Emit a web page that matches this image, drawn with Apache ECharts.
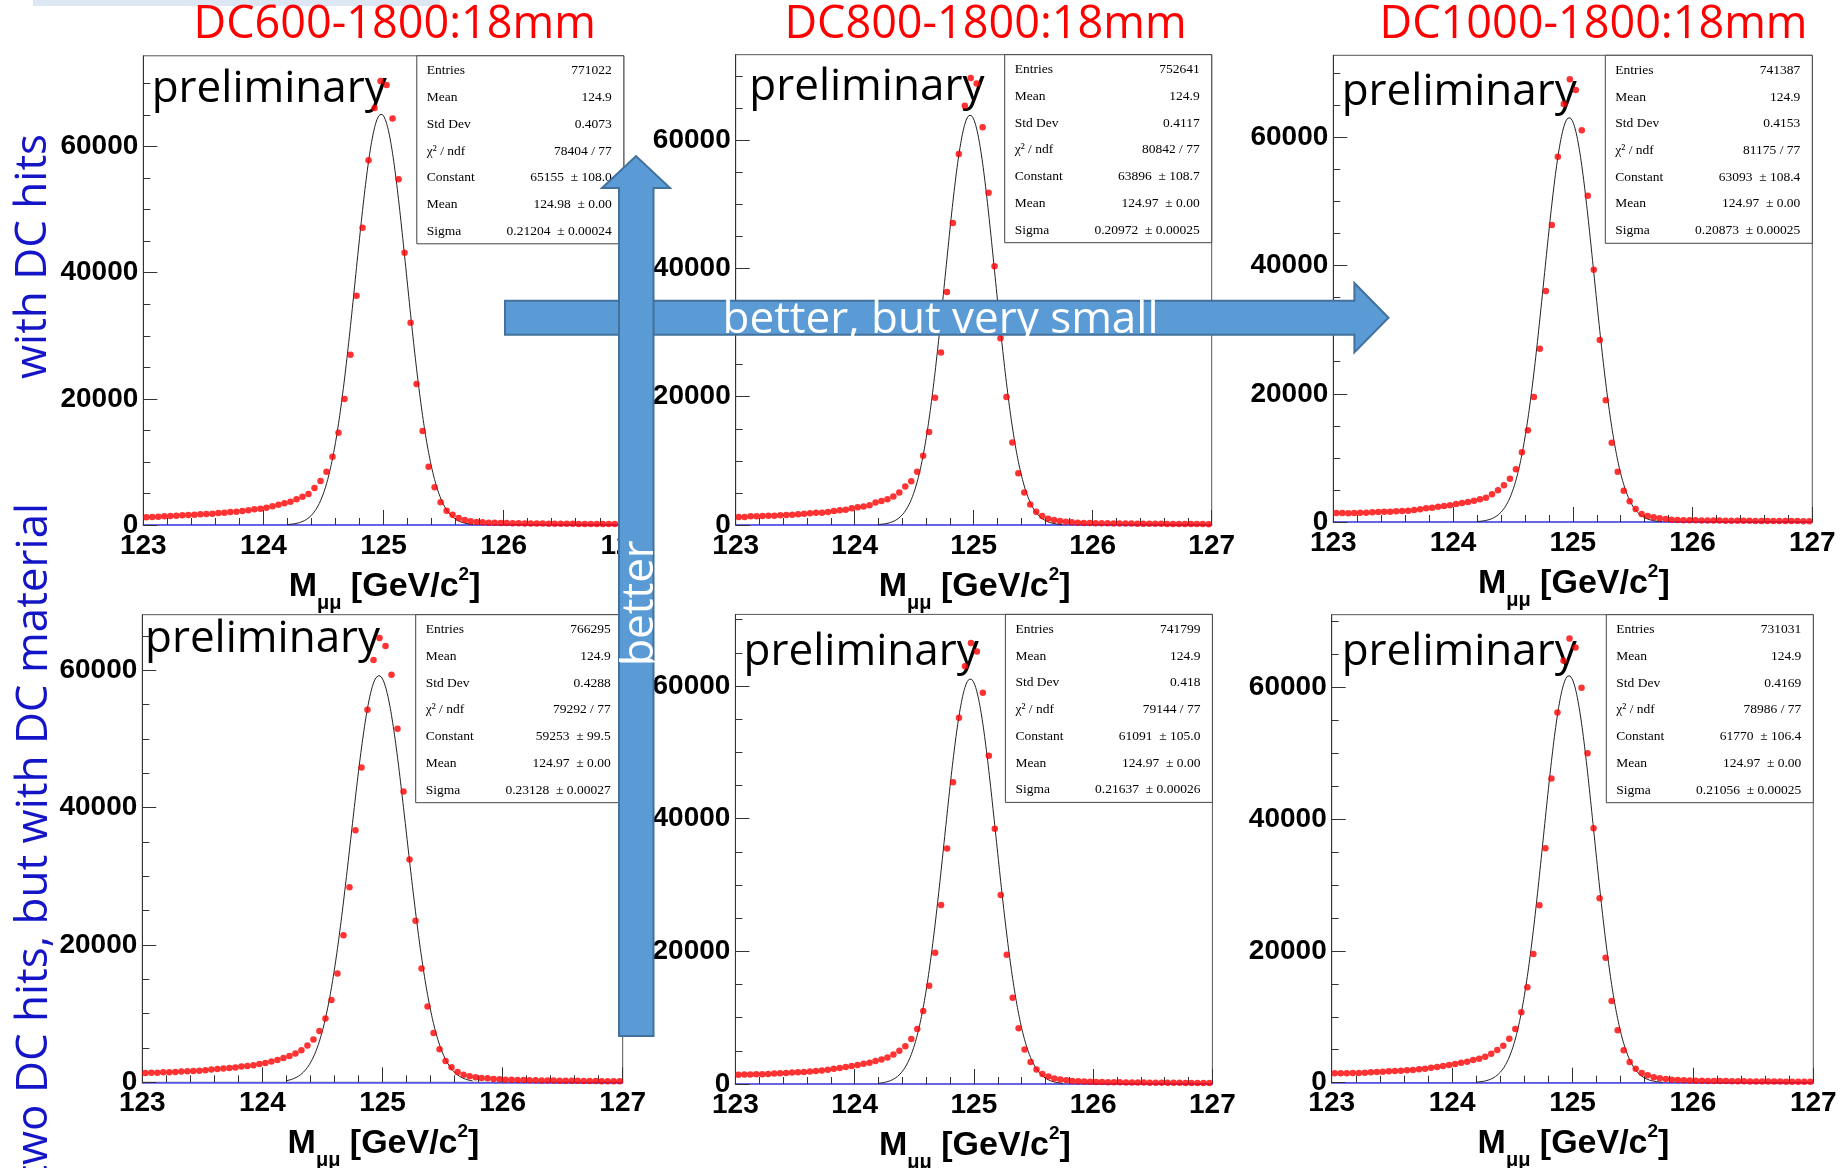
<!DOCTYPE html>
<html>
<head>
<meta charset="utf-8">
<script src="https://cdn.jsdelivr.net/npm/echarts@6/dist/echarts.min.js"></script>
<style>
html, body { margin: 0; padding: 0; background: #fff; }
#chart { width: 1842px; height: 1168px; }
</style>
</head>
<body>
<div id="chart"></div>
<script>
// Dimuon invariant mass histograms: 80 bins of 0.05 GeV from 123 to 127 GeV
const binLow = 123;
const binWidth = 0.05;

const columnTitles = ['DC600-1800:18mm', 'DC800-1800:18mm', 'DC1000-1800:18mm'];
const rowTitles = ['with DC hits', 'two DC hits, but with DC material'];
const xTickValues = [123, 124, 125, 126, 127];
const yTickValues = [0, 20000, 40000, 60000];
const yMinorTickValues = [5000, 10000, 15000, 25000, 30000, 35000, 45000, 50000, 55000, 65000, 70000];
const xAxisTitle = ['M', '\u03bc\u03bc', ' [GeV/c', '2', ']'];

// Bin contents, panels ordered row by row
const countsDC600hits = [1215, 1268, 1320, 1373, 1426, 1479, 1532, 1585, 1637, 1690, 1743, 1796, 1900, 1954, 2060, 2113, 2218, 2324, 2482, 2588,
  2747, 2958, 3222, 3433, 3697, 4067, 4490, 4912, 5863, 6972, 8451, 10828, 14631, 19966, 26991, 36340, 47115, 57838, 66130, 70409,
  69775, 64440, 54827, 43154, 32062, 22343, 14895, 9244, 5969, 3592, 2271, 1637, 1109, 792, 581, 475, 422, 370, 340, 320,
  300, 285, 270, 255, 245, 235, 225, 215, 205, 200, 190, 185, 175, 170, 165, 160, 155, 150, 145, 140];
const countsDC800hits = [1250, 1250, 1354, 1354, 1406, 1458, 1458, 1510, 1562, 1614, 1667, 1771, 1823, 1927, 1927, 2031, 2187, 2292, 2396, 2604,
  2760, 2864, 3073, 3489, 3750, 4010, 4427, 5052, 5989, 6822, 8281, 10781, 14478, 19842, 26873, 36300, 47080, 57809, 65360, 69683,
  68798, 61975, 51768, 40310, 29113, 19947, 12864, 8072, 5052, 3177, 2083, 1406, 990, 781, 625, 520, 417, 365, 330, 310,
  290, 275, 260, 250, 240, 230, 220, 210, 200, 195, 185, 180, 170, 165, 160, 155, 150, 145, 140, 135];
const countsDC1000hits = [1400, 1420, 1380, 1390, 1440, 1456, 1508, 1560, 1612, 1612, 1664, 1716, 1768, 1872, 1976, 2132, 2236, 2392, 2496, 2600,
  2808, 2964, 3120, 3328, 3536, 3796, 4316, 4940, 5720, 6760, 8216, 10868, 14300, 19500, 27040, 36036, 46332, 56992, 65208, 69056,
  67392, 61100, 50908, 39364, 28392, 18980, 12376, 7852, 4888, 3224, 2028, 1248, 936, 728, 572, 468, 364, 312, 290, 275,
  260, 250, 240, 230, 220, 210, 205, 195, 190, 180, 175, 170, 165, 160, 155, 150, 145, 140, 135, 130];
const countsDC600material = [1360, 1409, 1409, 1457, 1457, 1506, 1555, 1603, 1652, 1700, 1749, 1846, 1943, 1992, 2089, 2138, 2283, 2380, 2478, 2672,
  2818, 3012, 3255, 3546, 3838, 4178, 4664, 5344, 6218, 7481, 9279, 11999, 15837, 21424, 28419, 36726, 45860, 54264, 61502, 64709,
  63543, 59365, 51495, 42362, 32451, 23513, 16566, 11028, 7190, 4809, 3109, 2186, 1506, 1117, 874, 729, 632, 583, 486, 437,
  389, 370, 350, 330, 310, 290, 275, 260, 250, 240, 230, 220, 210, 200, 190, 180, 170, 165, 160, 150];
const countsDC800material = [1400, 1420, 1430, 1460, 1480, 1520, 1570, 1620, 1670, 1720, 1770, 1820, 1880, 1950, 2050, 2150, 2300, 2400, 2550, 2700,
  2850, 3050, 3200, 3450, 3700, 4000, 4450, 5000, 5700, 6800, 8300, 11000, 14800, 19800, 27000, 35500, 45500, 55200, 63000, 66500,
  65200, 59000, 49500, 38500, 28500, 19500, 13000, 8400, 5200, 3300, 2200, 1500, 1120, 830, 670, 560, 460, 410, 360, 335,
  315, 295, 280, 265, 255, 245, 235, 225, 215, 205, 195, 190, 180, 175, 170, 165, 160, 150, 145, 140];
const countsDC1000material = [1417, 1417, 1417, 1467, 1467, 1518, 1568, 1619, 1669, 1720, 1771, 1821, 1872, 1922, 2024, 2125, 2277, 2378, 2530, 2681,
  2833, 3035, 3187, 3440, 3642, 3946, 4401, 4958, 5615, 6678, 8145, 10674, 14469, 19528, 26914, 35565, 46138, 56155, 63996, 67386,
  66020, 59899, 49983, 38600, 27976, 18971, 12395, 7943, 4907, 3137, 2125, 1467, 1113, 809, 658, 556, 455, 405, 354, 330,
  310, 290, 275, 260, 250, 240, 230, 220, 210, 200, 195, 185, 180, 170, 165, 160, 155, 150, 145, 140];

// Statistics box contents
const entries = [771022, 752641, 741387, 766295, 741799, 731031];
const histMean = ['124.9', '124.9', '124.9', '124.9', '124.9', '124.9'];
const stdDev = ['0.4073', '0.4117', '0.4153', '0.4288', '0.418', '0.4169'];
const chi2 = [78404, 80842, 81175, 79292, 79144, 78986];
const ndf = [77, 77, 77, 77, 77, 77];
const fitConstant = [65155, 63896, 63093, 59253, 61091, 61770];
const fitConstantErr = ['108.0', '108.7', '108.4', '99.5', '105.0', '106.4'];
const fitMean = [124.98, 124.97, 124.97, 124.97, 124.97, 124.97];
const fitMeanErr = ['0.00', '0.00', '0.00', '0.00', '0.00', '0.00'];
const fitSigma = [0.21204, 0.20972, 0.20873, 0.23128, 0.21637, 0.21056];
const fitSigmaErr = ['0.00024', '0.00025', '0.00025', '0.00027', '0.00026', '0.00025'];
const fitRange = [124.2, 125.75];

const allCounts = [countsDC600hits, countsDC800hits, countsDC1000hits,
  countsDC600material, countsDC800material, countsDC1000material];

// Pad geometry (pixels) and y-range of each frame
const pads = [
  { l: 143.3, t: 55.8, w: 480.5, h: 469.2, yMax: 74400, px: 151.7, py: 106.7 },
  { l: 735.7, t: 54.7, w: 476.0, h: 470.3, yMax: 73300, px: 749.3, py: 105.0 },
  { l: 1333.3, t: 55.3, w: 479.0, h: 466.7, yMax: 72800, px: 1341.7, py: 109.3 },
  { l: 142.3, t: 614.7, w: 480.4, h: 467.6, yMax: 68100, px: 145.0, py: 656.7 },
  { l: 735.4, t: 614.4, w: 477.0, h: 469.6, yMax: 70800, px: 743.6, py: 669.6 },
  { l: 1331.7, t: 614.7, w: 481.6, h: 468.0, yMax: 71000, px: 1341.7, py: 670.0 }
];

// Canvas text baseline sits this far (in em) below the 'middle' line for each font
const MID = { sans: 0.3465, serif: 0.3375, open: 0.388 };

const measureCtx = document.createElement('canvas').getContext('2d');
function textWidth(str, font) { measureCtx.font = font; return measureCtx.measureText(str).width; }

const grid = [], xAxis = [], yAxis = [], series = [], elements = [];

const tickFont = { fontFamily: 'Liberation Sans', fontWeight: 'bold', fontSize: 28, color: '#000' };
const plainNumber = v => String(v);

pads.forEach((p, k) => {
  grid.push({ left: p.l, top: p.t, width: p.w, height: p.h, show: true,
    borderColor: '#555', borderWidth: 1, backgroundColor: 'transparent' });

  xAxis.push({ gridIndex: k, type: 'value', min: xTickValues[0], max: xTickValues[xTickValues.length - 1], interval: 1,
    axisLine: { show: true, onZero: false, lineStyle: { color: '#4f4fff', width: 1.5 } },
    axisTick: { show: true, inside: true, length: 15, lineStyle: { color: '#333', width: 1 } },
    minorTick: { show: true, splitNumber: 5, length: 7, lineStyle: { color: '#333', width: 1 } },
    axisLabel: Object.assign({ margin: 7, customValues: xTickValues, formatter: plainNumber }, tickFont),
    splitLine: { show: false }, minorSplitLine: { show: false } });

  yAxis.push({ gridIndex: k, type: 'value', min: 0, max: p.yMax, interval: 20000,
    axisLine: { show: true, lineStyle: { color: '#333', width: 1 } },
    axisTick: { show: true, inside: true, length: 14, customValues: yTickValues, lineStyle: { color: '#333' } },
    axisLabel: Object.assign({ margin: 5, customValues: yTickValues, formatter: plainNumber }, tickFont),
    splitLine: { show: false } });
  // secondary divisions of the y axis
  yAxis.push({ gridIndex: k, type: 'value', min: 0, max: p.yMax, position: 'left',
    axisLine: { show: false },
    axisTick: { show: true, inside: true, length: 7, customValues: yMinorTickValues, lineStyle: { color: '#333' } },
    axisLabel: { show: false }, splitLine: { show: false } });

  series.push({ type: 'scatter', xAxisIndex: k, yAxisIndex: 2 * k, z: 3,
    symbol: 'circle', symbolSize: 6.5, itemStyle: { color: '#ff0000' },
    data: allCounts[k].map((c, i) => [binLow + binWidth * (i + 0.5), c]) });

  // Gaussian fit drawn from its fitted parameters
  const curve = [];
  for (let x = fitRange[0]; x <= fitRange[1] + 1e-9; x += 0.005) {
    const d = (x - fitMean[k]) / fitSigma[k];
    curve.push([x, fitConstant[k] * Math.exp(-0.5 * d * d)]);
  }
  series.push({ type: 'line', xAxisIndex: k, yAxisIndex: 2 * k, z: 2, showSymbol: false, symbol: 'none',
    lineStyle: { color: '#222', width: 1 }, data: curve });

  // "preliminary"
  elements.push({ type: 'text', x: p.px, y: p.py - MID.open * 44, z: 1,
    style: { text: 'preliminary', fill: '#000', font: '44px "Open Sans"', align: 'left', verticalAlign: 'middle' } });

  // statistics box
  const bw = 207, bh = 188, bx = p.l + p.w - bw, by = p.t;
  elements.push({ type: 'rect', z: 10, shape: { x: bx, y: by, width: bw, height: bh },
    style: { fill: '#fff', stroke: '#444', lineWidth: 1 } });
  const labels = ['Entries', 'Mean', 'Std Dev', '\u03c7\u00b2 / ndf', 'Constant', 'Mean', 'Sigma'];
  const values = [String(entries[k]), histMean[k], stdDev[k], chi2[k] + ' / ' + ndf[k],
    fitConstant[k] + '\u2002\u00b1 ' + fitConstantErr[k],
    fitMean[k].toFixed(2) + '\u2002\u00b1 ' + fitMeanErr[k],
    fitSigma[k].toFixed(5) + '\u2002\u00b1 ' + fitSigmaErr[k]];
  const sfs = 13.5;
  labels.forEach((lab, r) => {
    const base = by + 19.7 + 26.7 * r;
    elements.push({ type: 'text', z: 11, x: bx + 10, y: base - MID.serif * sfs,
      style: { text: lab, fill: '#000', font: sfs + 'px "Liberation Serif"', align: 'left', verticalAlign: 'middle' } });
    elements.push({ type: 'text', z: 11, x: bx + bw - 12, y: base - MID.serif * sfs,
      style: { text: values[r], fill: '#000', font: sfs + 'px "Liberation Serif"', align: 'right', verticalAlign: 'middle' } });
  });

  // x-axis title with subscript and superscript
  const sizes = [34, 20, 34, 19, 34];
  const shifts = [0, 12, 0, -17, 0];
  const fonts = sizes.map(s => 'bold ' + s + 'px "Liberation Sans"');
  const widths = xAxisTitle.map((t, i) => textWidth(t, fonts[i]));
  const total = widths.reduce((a, b) => a + b, 0);
  let cx = p.l + p.w / 2 + 1 - total / 2;
  const baseline = p.t + p.h + 73;
  xAxisTitle.forEach((t, i) => {
    elements.push({ type: 'text', z: 5, x: cx, y: baseline + shifts[i] - MID.sans * sizes[i],
      style: { text: t, fill: '#000', font: fonts[i], align: 'left', verticalAlign: 'middle' } });
    cx += widths[i];
  });
});

// column titles
const titleCenters = [394.7, 985.5, 1593.5];
columnTitles.forEach((t, i) => {
  elements.push({ type: 'text', z: 5, x: titleCenters[i], y: 42.3 - MID.open * 45,
    style: { text: t, fill: '#ff0000', font: '45px "Open Sans"', align: 'center', verticalAlign: 'middle' } });
});

// row titles, written upwards
elements.push({ type: 'text', z: 5, x: 50.7 - MID.open * 44, y: 256.5, rotation: Math.PI / 2,
  style: { text: rowTitles[0], fill: '#1515c8', font: '44px "Open Sans"', align: 'center', verticalAlign: 'middle' } });
elements.push({ type: 'text', z: 5, x: 51.5 - MID.open * 44, y: 502.8, rotation: Math.PI / 2,
  style: { text: rowTitles[1], fill: '#1515c8', font: '44px "Open Sans"', align: 'right', verticalAlign: 'middle' } });

// thin banner at the top edge
elements.push({ type: 'rect', z: 0, shape: { x: 33, y: 0, width: 407, height: 6 }, style: { fill: '#dde7f3' } });

// horizontal arrow
elements.push({ type: 'polygon', z: 20,
  shape: { points: [[505, 300.7], [1354.4, 300.7], [1354.4, 283], [1388.5, 317.8], [1354.4, 352.4], [1354.4, 334.8], [505, 334.8]] },
  style: { fill: '#5b9bd5', stroke: '#41719c', lineWidth: 2 } });
elements.push({ type: 'text', z: 20, x: 722.5, y: 338 - MID.open * 44,
  style: { text: 'better, but very small', fill: '#fff', font: '44px "Open Sans"', align: 'left', verticalAlign: 'middle' } });

// vertical arrow
elements.push({ type: 'polygon', z: 21,
  shape: { points: [[619, 1036], [619, 188], [602, 188], [636, 156], [670, 188], [653.5, 188], [653.5, 1036]] },
  style: { fill: '#5b9bd5', stroke: '#41719c', lineWidth: 2 } });
elements.push({ type: 'text', z: 22, x: 657.8 - MID.open * 44, y: 603, rotation: Math.PI / 2,
  style: { text: 'better', fill: '#fff', font: '44px "Open Sans"', align: 'center', verticalAlign: 'middle' } });
elements.push({ type: 'line', z: 22, shape: { x1: 620, y1: 661.5, x2: 656, y2: 661.5 },
  style: { stroke: '#fff', lineWidth: 2 } });

const chart = echarts.init(document.getElementById('chart'), null, { renderer: 'canvas' });
chart.setOption({
  animation: false,
  backgroundColor: '#fff',
  grid, xAxis, yAxis, series,
  graphic: { elements }
});
</script>
</body>
</html>
